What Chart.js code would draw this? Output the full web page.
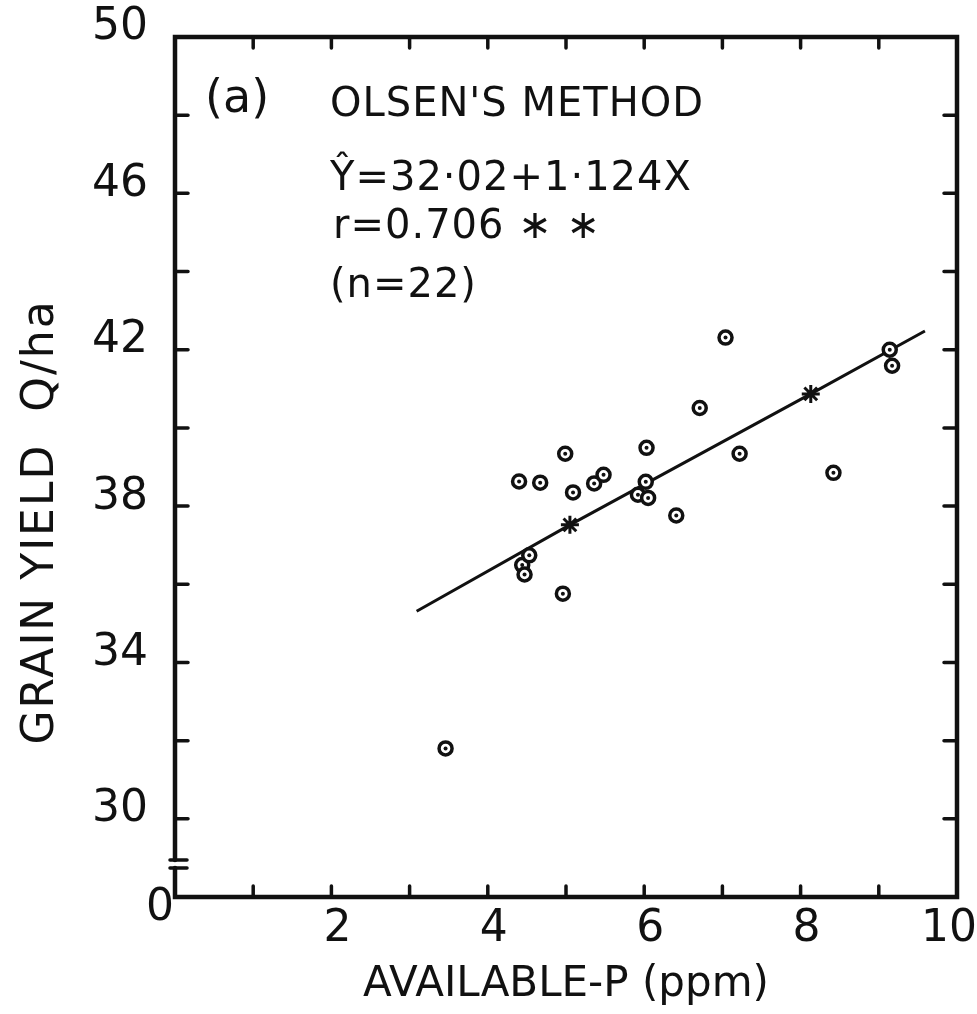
<!DOCTYPE html>
<html>
<head>
<meta charset="utf-8">
<script src="https://cdn.jsdelivr.net/npm/chart.js@4.4.1/dist/chart.umd.min.js"></script>
<style>
  html, body { margin: 0; padding: 0; background: #fff; }
  #wrap { width: 977px; height: 1014px; }
</style>
</head>
<body>
<div id="wrap"><canvas id="myChart"></canvas></div>
<script>
// available P (ppm) and grain yield (Q/ha), 22 plots
const availP = [3.46, 4.40, 4.44, 4.47, 4.53, 4.67, 4.96, 4.99, 5.09, 5.36, 5.48,
                5.92, 6.02, 6.03, 6.05, 6.41, 6.71, 7.04, 7.22, 8.42, 9.14, 9.17];
const grainYield = [31.8, 38.63, 36.49, 36.25, 36.74, 38.60, 35.76, 39.34, 38.35, 38.58, 38.80,
                    38.29, 38.62, 39.49, 38.21, 37.76, 40.51, 42.31, 39.34, 38.85, 42.0, 41.59];

// regression line as drawn, and the two star marks on it
const fitX = [3.09, 5.05, 8.13, 9.59];
const fitY = [35.31, 37.52, 40.87, 42.48];
const starX = [5.05, 8.13];
const starY = [37.52, 40.87];

const xTickLabels = [2, 4, 6, 8, 10];
const yTickLabels = [30, 34, 38, 42, 46, 50];

const panelTag = '(a)';
const notes = ["OLSEN'S METHOD", 'Ŷ=32·02+1·124X', 'r=0.706 ∗ ∗', '(n=22)'];
const yTitle = 'GRAIN YIELD  Q/ha';
const xTitle = 'AVAILABLE-P (ppm)';

const FONT = '"DejaVu Sans", sans-serif';
const INK = '#111';

const toPoints = (xs, ys) => xs.map((x, i) => ({ x: x, y: ys[i] }));

// box frame, axis break, inward ticks and the hand-lettered notes
const framePlugin = {
  id: 'frame',
  afterDraw(chart) {
    const { ctx, chartArea: a, scales } = chart;
    const x = scales.x, y = scales.y;
    ctx.save();
    ctx.strokeStyle = INK;
    ctx.lineCap = 'round';

    const brTop = a.bottom - 37, brBot = a.bottom - 29;
    ctx.lineWidth = 4.5;
    ctx.beginPath();
    ctx.moveTo(a.left, brTop);
    ctx.lineTo(a.left, a.top);
    ctx.lineTo(a.right, a.top);
    ctx.lineTo(a.right, a.bottom);
    ctx.lineTo(a.left, a.bottom);
    ctx.lineTo(a.left, brBot);
    ctx.stroke();

    ctx.lineWidth = 3.5;
    ctx.beginPath();
    [brTop, brBot].forEach(py => { ctx.moveTo(a.left - 5, py); ctx.lineTo(a.left + 12, py); });
    ctx.stroke();

    ctx.lineWidth = 3.5;
    ctx.beginPath();
    for (let v = 30; v < 50; v += 2) {
      const py = y.getPixelForValue(v);
      ctx.moveTo(a.left, py); ctx.lineTo(a.left + 13, py);
      ctx.moveTo(a.right, py); ctx.lineTo(a.right - 13, py);
    }
    for (let v = 1; v < 10; v++) {
      const px = x.getPixelForValue(v);
      ctx.moveTo(px, a.bottom); ctx.lineTo(px, a.bottom - 11);
      ctx.moveTo(px, a.top); ctx.lineTo(px, a.top + 11);
    }
    ctx.stroke();

    ctx.fillStyle = INK;
    ctx.textBaseline = 'middle';
    ctx.textAlign = 'center';
    ctx.font = '44px ' + FONT;
    ctx.fillText('0', a.left - 15, a.bottom + 12);

    ctx.textAlign = 'left';
    ctx.font = '46px ' + FONT;
    ctx.fillText(panelTag, a.left + 30, 100);
    ctx.font = '40px ' + FONT;
    ctx.letterSpacing = '1px';
    ctx.fillText(notes[0], a.left + 155, 106);
    ctx.fillText(notes[1], a.left + 155, 180);
    ctx.fillText(notes[2], a.left + 158, 228);
    ctx.fillText(notes[3], a.left + 155, 287);

    ctx.translate(42, 522);
    ctx.rotate(-Math.PI / 2);
    ctx.textAlign = 'center';
    ctx.font = '44px ' + FONT;
    ctx.letterSpacing = '2px';
    ctx.fillText(yTitle, 0, 0);
    ctx.restore();
  }
};

const ctx = document.getElementById('myChart').getContext('2d');

new Chart(ctx, {
  type: 'scatter',
  data: {
    datasets: [
      {
        label: 'dots',
        data: toPoints(availP, grainYield),
        pointRadius: 2,
        pointBackgroundColor: INK,
        pointBorderWidth: 0,
        order: 0,
      },
      {
        label: 'Grain yield',
        data: toPoints(availP, grainYield),
        pointRadius: 6.5,
        pointBorderWidth: 3.5,
        pointBorderColor: INK,
        pointBackgroundColor: '#fff',
        order: 1,
      },
      {
        label: 'stars',
        data: toPoints(starX, starY),
        pointStyle: 'star',
        pointRadius: 9,
        pointBorderWidth: 3,
        pointBorderColor: INK,
        order: 2,
      },
      {
        label: 'Fit',
        type: 'line',
        data: toPoints(fitX, fitY),
        borderColor: INK,
        borderWidth: 3,
        pointRadius: 0,
        tension: 0,
        fill: false,
        order: 3,
      },
    ],
  },
  options: {
    responsive: true,
    maintainAspectRatio: false,
    animation: false,
    layout: { padding: { top: 37, right: 20, left: 0, bottom: 0 } },
    plugins: { legend: { display: false }, tooltip: { enabled: false } },
    scales: {
      x: {
        type: 'linear',
        min: 0,
        max: 10,
        grid: { display: false, drawTicks: false },
        border: { display: false },
        ticks: {
          stepSize: 1,
          autoSkip: false,
          maxRotation: 0,
          padding: 6,
          labelOffset: 6,
          color: INK,
          font: { family: FONT, size: 44 },
          // trailing spaces keep the last label inside the page
          callback: v => (v === 10 ? '10  ' : xTickLabels.includes(v) ? String(v) : ''),
        },
        title: {
          display: true,
          text: xTitle,
          color: INK,
          font: { family: FONT, size: 42 },
          padding: { top: 0, bottom: 4 },
        },
        afterFit: s => { s.height = 117; s.paddingLeft = 0; s.paddingRight = 0; },
      },
      y: {
        type: 'linear',
        min: 28,
        max: 50,
        grid: { display: false, drawTicks: false },
        border: { display: false },
        ticks: {
          stepSize: 2,
          autoSkip: false,
          padding: 27,
          labelOffset: -9,
          color: INK,
          font: { family: FONT, size: 44 },
          callback: v => (yTickLabels.includes(v) ? String(v) : ''),
        },
        afterFit: s => { s.width = 175; s.paddingTop = 0; s.paddingBottom = 0; },
      },
    },
  },
  plugins: [framePlugin],
});
</script>
</body>
</html>
